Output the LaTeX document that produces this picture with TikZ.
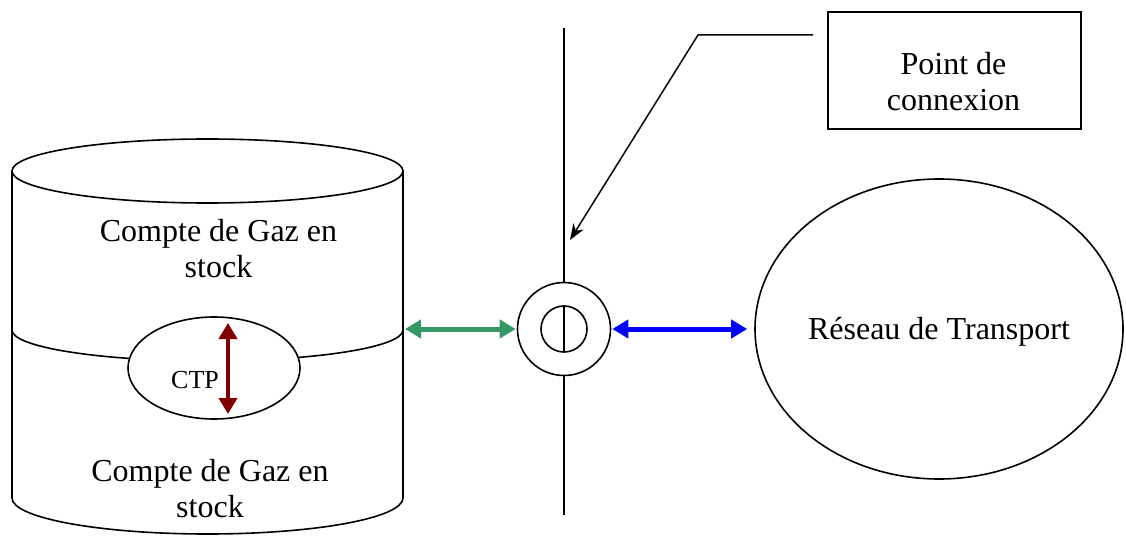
\documentclass[tikz,border=0pt]{standalone}
\usepackage{fontspec}
\setmainfont{Liberation Serif}
\usetikzlibrary{arrows.meta,shapes.geometric}
\tikzset{
  outline/.style={draw=black, line width=1.6pt},
  bigtext/.style={font=\fontsize{32}{36}\selectfont, align=center, inner sep=0pt},
  fatarrow/.style={line width=5pt, {Triangle[length=16pt,width=18pt]}-{Triangle[length=16pt,width=18pt]}},
  pointer/.style={line width=1.5pt, -{Stealth[length=16pt,width=12pt,inset=5pt]}},
}
\definecolor{gasgreen}{RGB}{52,153,102}
\definecolor{ctpred}{RGB}{128,0,0}
\begin{document}
\begin{tikzpicture}[x=1pt,y=1pt]
\useasboundingbox (0,0) rectangle (1126,536);
% cylinder
\draw[outline] (207.5,365) ellipse [x radius=195.5pt, y radius=32pt];
\draw[outline] (12,365) -- (12,38) arc[start angle=180, end angle=360, x radius=195.5pt, y radius=36pt] -- (403,365);
\draw[outline] (12,206) arc[start angle=180, end angle=360, x radius=195.5pt, y radius=31pt];
\coordinate (cylE) at (403,207);
% CTP ellipse
\node[ellipse, outline, fill=white, minimum width=172pt, minimum height=102pt, inner sep=0pt] (ctp) at (214,168) {};
\node[font=\fontsize{26}{30}\selectfont, inner sep=0pt] (ctptext) at (195,156) {CTP};
\coordinate (ctpTop) at (228,213);
\coordinate (ctpBot) at (228,122);
\draw[fatarrow, ctpred, line width=4.5pt] (ctpBot) -- (ctpTop);
% texts in cylinder
\node[bigtext] (upper) at (218.5,287) {Compte de Gaz en\\stock};
\node[bigtext] (lower) at (210,47) {Compte de Gaz en\\stock};
% connection point
\node[circle, outline, minimum size=93pt, inner sep=0pt] (outer) at (564,207) {};
\node[circle, outline, minimum size=46pt, inner sep=0pt] (inner) at (564,207) {};
\coordinate (lineTop) at (564,508);
\coordinate (lineBot) at (564,21);
\draw[outline] (lineTop) -- (outer.north);
\draw[outline] (outer.south) -- (lineBot);
\draw[outline] (inner.north) -- (inner.south);
% network
\node[ellipse, outline, minimum width=368pt, minimum height=300pt, inner sep=0pt] (net) at (939,207) {};
\node[bigtext] (nettext) at (939,204) {Réseau de Transport};
% arrows
\draw[fatarrow, gasgreen, shorten <=2pt, shorten >=1pt] (cylE) -- (outer.west);
\draw[fatarrow, blue, shorten <=1pt, shorten >=7pt] (outer.east) -- (net.west);
% label box
\node[draw=black, line width=1.6pt, minimum width=253pt, minimum height=117pt, inner sep=0pt] (box) at (954.5,465.5) {};
\node[bigtext] (boxtext) at (953.5,454) {Point de\\connexion};
\coordinate (ptStart) at (813,501);
\coordinate (ptBend) at (698,501);
\coordinate (ptTip) at (570,296);
\draw[pointer] (ptStart) -- (ptBend) -- (ptTip);
\end{tikzpicture}
\end{document}
